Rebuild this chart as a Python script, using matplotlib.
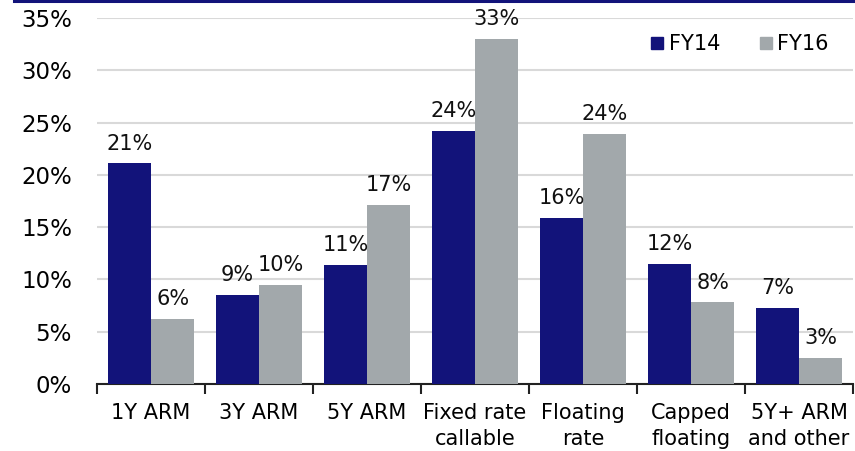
import matplotlib
matplotlib.use("Agg")
import matplotlib.pyplot as plt
from matplotlib.lines import Line2D
import numpy as np

categories = ["1Y ARM", "3Y ARM", "5Y ARM", "Fixed rate\ncallable",
              "Floating\nrate", "Capped\nfloating", "5Y+ ARM\nand other"]
fy14 = [21.1, 8.5, 11.4, 24.2, 15.9, 11.5, 7.3]
fy16 = [6.2, 9.5, 17.1, 33.0, 23.9, 7.8, 2.5]
fy14_labels = ["21%", "9%", "11%", "24%", "16%", "12%", "7%"]
fy16_labels = ["6%", "10%", "17%", "33%", "24%", "8%", "3%"]
series_names = ["FY14", "FY16"]

NAVY = "#12137a"
GREY = "#a2a8ab"

plt.rcParams["font.family"] = ["DejaVu Sans"]

fig = plt.figure(figsize=(8.55, 4.51), dpi=100)
ax = fig.add_axes([97 / 855, 67 / 451, 756 / 855, 366 / 451])

x = np.arange(len(categories))
w = 0.4
b1 = ax.bar(x - w / 2, fy14, w, color=NAVY, zorder=3)
b2 = ax.bar(x + w / 2, fy16, w, color=GREY, zorder=3)

for bars, labels in ((b1, fy14_labels), (b2, fy16_labels)):
    for rect, lab in zip(bars, labels):
        ax.annotate(lab, (rect.get_x() + rect.get_width() / 2, rect.get_height()),
                    xytext=(0, 7), textcoords="offset points",
                    ha="center", va="bottom", fontsize=15, color="#111111")

ax.set_xlim(-0.5, len(categories) - 0.5)
ax.set_ylim(0, 35)
ax.set_yticks(np.arange(0, 36, 5))
ax.set_yticklabels([f"{v}%" for v in range(0, 36, 5)], fontsize=16.5)
ax.yaxis.grid(True, color="#d9d9d9", linewidth=1.5, zorder=0)
ax.tick_params(axis="y", length=0, pad=18)

ax.set_xticks(np.arange(len(categories) + 1) - 0.5, minor=False)
ax.set_xticklabels([])
ax.set_xticks(x, minor=True)
ax.set_xticklabels(categories, minor=True, fontsize=15, linespacing=1.35)
ax.tick_params(axis="x", which="major", length=7, width=1.5, direction="out",
               color="#222222")
ax.tick_params(axis="x", which="minor", length=0, pad=14)

for side in ("top", "right", "left"):
    ax.spines[side].set_visible(False)
ax.spines["bottom"].set_color("#222222")
ax.spines["bottom"].set_linewidth(1.5)

handles = [Line2D([], [], marker="s", linestyle="", markersize=8.5,
                  markerfacecolor=c, markeredgecolor=c) for c in (NAVY, GREY)]
ax.legend(handles, series_names, loc="upper right", bbox_to_anchor=(0.993, 1.007),
          ncol=2, frameon=False, fontsize=15, handletextpad=0.05,
          columnspacing=1.7, handlelength=1.0)

fig.add_artist(Line2D([14 / 855, 1.0], [1 - 1.2 / 451, 1 - 1.2 / 451],
                      transform=fig.transFigure, color=NAVY, linewidth=2.2))

fig.savefig("out.png", dpi=100)
